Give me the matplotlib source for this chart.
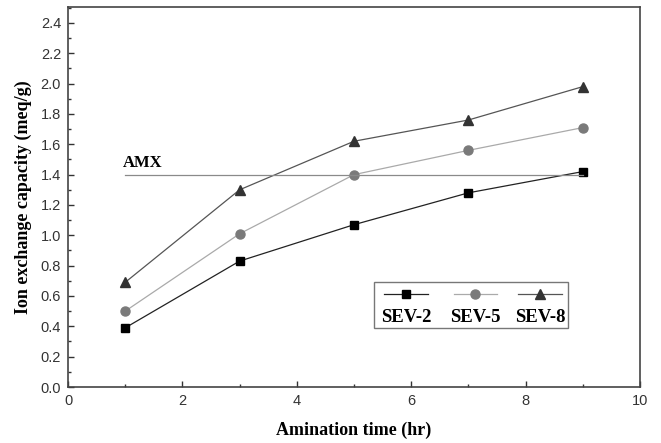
import numpy as np
from matplotlib import pyplot as plt
from matplotlib.ticker import MultipleLocator
from matplotlib.patches import Rectangle

# amination time (hr)
t = [1, 3, 5, 7, 9]

sev2 = [0.39, 0.83, 1.07, 1.28, 1.42]
sev5 = [0.50, 1.01, 1.40, 1.56, 1.71]
sev8 = [0.69, 1.30, 1.62, 1.76, 1.98]

amx = 1.40
amx_range = [1, 9]

names = ["SEV-2", "SEV-5", "SEV-8"]

serif = dict(family="Liberation Serif", weight="bold")

fig = plt.figure(figsize=(6.61, 4.43), dpi=100)
ax = fig.add_axes([0.1029, 0.1264, 0.8653, 0.8578])

styles = [
    dict(marker="s", mfc="black", mec="black", color="#222222", ms=6),
    dict(marker="o", mfc="#7a7a7a", mec="#7a7a7a", color="#aaaaaa", ms=6.5),
    dict(marker="^", mfc="#333333", mec="#333333", color="#555555", ms=7.5),
]

for y, st in zip([sev2, sev5, sev8], styles):
    ax.plot(t, y, lw=0.9, **st)

ax.plot(amx_range, [amx, amx], color="#8a8a8a", lw=0.9)
ax.text(amx_range[0] - 0.05, amx + 0.025, "AMX", fontsize=12, va="bottom", ha="left", **serif)

# legend box, handle above label
ax.add_patch(Rectangle((5.35, 0.389), 3.39, 0.303, fill=False, ec="#777777", lw=1.0))
key_x = [5.91, 7.12, 8.25]
for kx, name, st in zip(key_x, names, styles):
    ax.plot([kx - 0.38, kx + 0.38], [0.613, 0.613], lw=0.9, color=st["color"])
    ax.plot([kx], [0.613], ls="none", marker=st["marker"], mfc=st["mfc"],
            mec=st["mec"], ms=st["ms"])
    ax.text(kx, 0.458, name, fontsize=13.5, ha="center", va="center", **serif)

ax.set_xlim(0, 10)
ax.set_ylim(0, 2.505)
ax.xaxis.set_major_locator(MultipleLocator(2))
ax.xaxis.set_minor_locator(MultipleLocator(1))
ax.yaxis.set_major_locator(MultipleLocator(0.2))
ax.yaxis.set_minor_locator(MultipleLocator(0.1))
ax.yaxis.set_major_formatter(lambda v, p: "%.1f" % v)
ax.xaxis.set_major_formatter(lambda v, p: "%d" % round(v))

ax.tick_params(which="both", direction="in", top=False, right=False,
               color="#333333", width=1.0)
ax.tick_params(which="major", length=4.5, labelsize=10.5, pad=5)
ax.tick_params(which="minor", length=2.5)
for lab in ax.get_xticklabels() + ax.get_yticklabels():
    lab.set_family("Liberation Sans")
    lab.set_color("#333333")
for sp in ax.spines.values():
    sp.set_linewidth(1.2)
    sp.set_color("#444444")

ax.set_xlabel("Amination time (hr)", fontsize=13, labelpad=10, **serif)
ax.set_ylabel("Ion exchange capacity (meq/g)", fontsize=13, labelpad=6, **serif)

plt.savefig("out.png", dpi=100)
